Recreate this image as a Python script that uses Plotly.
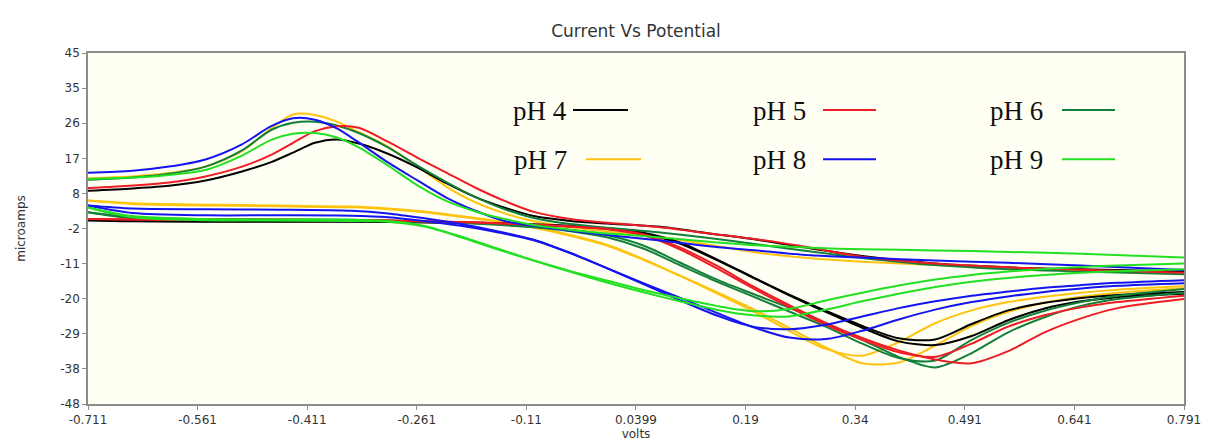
import plotly.graph_objects as go

# ---------------- data ----------------
# potential grid (volts) for the anodic/upper branches
UP_V = [-0.711, -0.65, -0.60, -0.55, -0.50, -0.46, -0.43, -0.40, -0.37, -0.34, -0.30,
        -0.26, -0.22, -0.18, -0.14, -0.10, -0.05, 0.00, 0.07, 0.14, 0.21, 0.28, 0.35,
        0.45, 0.55, 0.65, 0.791]
# potential grid (volts) for the cathodic/lower branches
LOW_V = [-0.711, -0.65, -0.55, -0.45, -0.35, -0.30, -0.25, -0.20, -0.15, -0.10, -0.05,
         0.00, 0.05, 0.10, 0.15, 0.20, 0.25, 0.30, 0.35, 0.40, 0.45, 0.50, 0.55, 0.60,
         0.65, 0.70, 0.791]

# currents (microamps)
ph4_up = [8.5, 9.1, 9.8, 11.2, 13.6, 16.1, 18.6, 21.2, 22.1, 21.0, 18.3, 14.7, 10.5, 6.8,
          4.0, 1.8, 0.5, -0.2, -1.0, -2.8, -4.6, -6.8, -8.8, -10.8, -11.8, -12.3, -12.9]
ph4_low_a = [0.7, 0.4, 0.3, 0.3, 0.3, 0.2, 0.1, 0.0, -0.2, -0.5, -0.9, -1.5, -2.8, -5.5,
             -9.8, -14.5, -19.0, -23.3, -27.3, -30.6, -30.9, -26.8, -23.2, -21.2, -19.9,
             -19.1, -18.3]
ph4_low_b = [0.7, 0.5, 0.4, 0.4, 0.4, 0.3, 0.2, 0.1, -0.1, -0.4, -0.8, -1.4, -2.6, -5.2,
             -9.6, -14.4, -19.2, -23.6, -27.8, -31.4, -32.4, -30.0, -25.8, -22.7, -20.8,
             -19.7, -18.8]

ph5_up = [9.2, 9.9, 10.7, 12.3, 14.9, 18.0, 21.2, 24.3, 25.6, 25.2, 21.5, 17.3, 13.3, 9.3,
          5.8, 2.9, 1.0, 0.0, -1.1, -2.8, -4.5, -6.6, -9.0, -10.8, -11.8, -12.4, -13.2]
ph5_low_a = [1.0, 0.9, 0.8, 0.8, 0.7, 0.6, 0.4, 0.2, -0.1, -0.5, -1.0, -1.6, -3.0, -6.5,
             -11.3, -16.8, -21.8, -26.5, -30.5, -33.8, -36.2, -37.2, -34.0, -29.0, -25.3,
             -22.6, -20.2]
ph5_low_b = [1.0, 0.9, 0.8, 0.8, 0.7, 0.6, 0.4, 0.2, -0.1, -0.5, -1.0, -1.7, -3.3, -7.0,
             -12.0, -17.3, -22.3, -27.0, -31.0, -34.3, -35.5, -32.0, -27.5, -24.5, -22.4,
             -21.0, -19.3]

ph6_up = [11.4, 12.0, 13.0, 14.9, 19.2, 24.6, 26.5, 26.8, 25.8, 23.8, 20.0, 15.2, 10.8, 6.8,
          3.6, 1.3, -0.3, -1.3, -2.5, -4.0, -5.8, -7.6, -9.3, -11.2, -12.3, -12.9, -13.6]
ph6_low_a = [2.8, 1.2, 0.8, 0.7, 0.6, 0.5, 0.3, 0.0, -0.4, -1.0, -1.8, -3.2, -6.0, -10.5,
             -15.0, -18.8, -22.5, -26.5, -31.0, -35.5, -38.3, -34.5, -29.0, -25.0, -22.0,
             -20.2, -18.5]
ph6_low_b = [2.8, 1.5, 1.0, 0.9, 0.8, 0.6, 0.3, 0.0, -0.5, -1.2, -2.2, -3.8, -6.8, -11.2,
             -15.5, -19.5, -23.5, -27.5, -32.0, -35.8, -36.5, -31.0, -26.5, -23.3, -21.0,
             -19.3, -17.5]

ph7_up = [11.8, 12.3, 13.2, 14.9, 19.0, 25.0, 28.7, 28.6, 26.8, 24.0, 20.2, 15.0, 9.6, 5.4,
          2.5, 0.4, -1.2, -2.3, -3.6, -5.8, -8.0, -9.4, -10.3, -11.2, -11.9, -12.5, -13.3]
ph7_low_a = [5.9, 5.0, 4.6, 4.4, 4.1, 3.6, 2.8, 1.6, 0.3, -1.3, -3.4, -6.0, -9.8, -14.0,
             -18.3, -22.8, -27.8, -33.0, -37.2, -37.0, -32.5, -27.3, -23.6, -21.2, -19.6,
             -18.5, -17.3]
ph7_low_b = [5.9, 5.2, 4.8, 4.6, 4.3, 3.8, 3.0, 1.8, 0.5, -1.1, -3.2, -5.8, -9.6, -14.0,
             -18.6, -23.4, -28.6, -33.4, -35.2, -31.6, -26.6, -23.2, -21.0, -19.6, -18.5,
             -17.7, -16.8]

ph8_up = [13.3, 13.8, 14.9, 16.8, 20.8, 25.6, 27.7, 27.3, 25.0, 21.3, 16.0, 11.3, 6.7, 3.2,
          0.5, -0.8, -2.1, -3.2, -4.6, -6.2, -7.4, -8.6, -9.2, -10.0, -10.6, -11.3, -12.5]
ph8_low_a = [4.6, 2.6, 2.0, 2.0, 1.9, 1.5, 0.5, -0.8, -2.5, -4.6, -8.0, -12.0, -16.0, -19.8,
             -23.8, -27.6, -30.4, -30.8, -28.6, -25.6, -23.0, -21.0, -19.5, -18.3, -17.4,
             -16.7, -16.0]
ph8_low_b = [4.6, 3.8, 3.6, 3.5, 3.2, 2.5, 1.2, -0.3, -2.2, -4.5, -8.0, -12.0, -16.2, -20.5,
             -24.5, -27.5, -28.2, -27.0, -24.8, -22.6, -20.8, -19.3, -18.2, -17.2, -16.5,
             -15.9, -15.2]

ph9_up = [11.6, 12.0, 12.7, 14.0, 17.8, 22.0, 23.6, 23.8, 22.6, 20.0, 15.2, 10.0, 5.8, 3.0,
          1.0, -0.6, -1.9, -2.8, -3.8, -5.0, -6.0, -6.6, -7.0, -7.3, -7.7, -8.2, -9.2]
ph9_low_a = [4.1, 1.5, 0.7, 0.6, 0.5, 0.3, -1.0, -3.8, -7.0, -10.0, -12.8, -15.3, -17.8,
             -20.0, -22.0, -23.4, -22.8, -20.6, -18.5, -16.6, -15.0, -13.8, -12.9, -12.2,
             -11.7, -11.3, -10.8]
ph9_low_b = [4.1, 1.8, 1.0, 0.9, 0.8, 0.5, -0.8, -3.6, -6.8, -10.0, -13.0, -15.8, -18.4,
             -20.8, -23.0, -24.5, -24.8, -23.0, -20.8, -18.8, -17.0, -15.6, -14.6, -13.8,
             -13.2, -12.8, -12.3]

SERIES_NAMES = ["pH 4", "pH 5", "pH 6", "pH 7", "pH 8", "pH 9"]
SERIES_UP = [ph4_up, ph5_up, ph6_up, ph7_up, ph8_up, ph9_up]
SERIES_LOW_A = [ph4_low_a, ph5_low_a, ph6_low_a, ph7_low_a, ph8_low_a, ph9_low_a]
SERIES_LOW_B = [ph4_low_b, ph5_low_b, ph6_low_b, ph7_low_b, ph8_low_b, ph9_low_b]

X_TICKS = [-0.711, -0.5608, -0.4106, -0.2604, -0.1102, 0.0399, 0.1901, 0.3404, 0.4906,
           0.6408, 0.791]
X_TICK_TEXT = ["-0.711", "-0.561", "-0.411", "-0.261", "-0.11", "0.0399", "0.19", "0.34",
               "0.491", "0.641", "0.791"]
Y_TICKS = [45, 35.7, 26.4, 17.1, 7.8, -1.5, -10.8, -20.1, -29.4, -38.7, -48]
Y_TICK_TEXT = ["45", "35", "26", "17", "8", "-2", "-11", "-20", "-29", "-38", "-48"]

# ---------------- styling ----------------
COLORS = ["#000000", "#ee1c24", "#12803a", "#ffc20e", "#1414f0", "#22e022"]
DRAW_ORDER = [3, 0, 2, 1, 4, 5]

W, H = 1209, 441
PL, PR, PT, PB = 80, 1176, 45, 402  # plot-area pixel box


def px_x(px):
    return (px - PL) / (PR - PL)


def px_y(py):
    return (PB - py) / (PB - PT)


fig = go.Figure()
for k in DRAW_ORDER:
    xs = UP_V + [None] + LOW_V + [None] + LOW_V
    ys = SERIES_UP[k] + [None] + SERIES_LOW_A[k] + [None] + SERIES_LOW_B[k]
    fig.add_trace(go.Scatter(
        x=xs, y=ys, mode="lines", name=SERIES_NAMES[k], connectgaps=False,
        line=dict(color=COLORS[k], width=2, shape="spline", smoothing=0.8),
        showlegend=False, hoverinfo="skip"))

# hand-made legend: label text followed by a short colour line
# (text right edge px, line start px, line end px, row centre px)
LEG_POS = [(561, 565, 620, 103), (800, 815, 868, 103), (1037, 1054, 1107, 103),
           (561, 578, 633, 153), (800, 815, 868, 153), (1037, 1054, 1107, 153)]
shapes = []
annotations = []
for k, (tr, lx0, lx1, ry) in enumerate(LEG_POS):
    annotations.append(dict(
        text=SERIES_NAMES[k], xref="paper", yref="paper", x=px_x(tr), y=px_y(ry + 1),
        xanchor="right", yanchor="middle", showarrow=False,
        font=dict(family="Liberation Serif, Times New Roman, serif", size=27,
                  color="#111111")))
    shapes.append(dict(type="line", xref="paper", yref="paper",
                       x0=px_x(lx0), x1=px_x(lx1), y0=px_y(ry), y1=px_y(ry),
                       line=dict(color=COLORS[k], width=2)))

axis_common = dict(showline=True, mirror=True, linecolor="#8c8c8c", linewidth=1.5,
                   ticks="outside", ticklen=4, tickcolor="#8c8c8c", showgrid=False,
                   zeroline=False,
                   tickfont=dict(family="DejaVu Sans, Arial, sans-serif", size=12,
                                 color="#333333"))

fig.update_layout(
    width=W, height=H,
    margin=dict(l=PL, r=W - PR, t=PT, b=H - PB),
    paper_bgcolor="#ffffff", plot_bgcolor="#fffff3",
    title=dict(text="Current Vs Potential", x=0.5, xref="paper", xanchor="center",
               y=1 - 23 / H, yref="container", yanchor="middle",
               font=dict(family="DejaVu Sans, Arial, sans-serif", size=17,
                         color="#333333")),
    xaxis=dict(range=[-0.711, 0.791], tickvals=X_TICKS, ticktext=X_TICK_TEXT,
               title=dict(text="volts", standoff=1,
                          font=dict(family="DejaVu Sans, Arial, sans-serif", size=12,
                                    color="#333333")),
               **axis_common),
    yaxis=dict(range=[-48, 45], tickvals=Y_TICKS, ticktext=Y_TICK_TEXT,
               title=dict(text="microamps", standoff=32,
                          font=dict(family="DejaVu Sans, Arial, sans-serif", size=12,
                                    color="#333333")),
               **axis_common),
    shapes=shapes, annotations=annotations,
)

fig.write_html("out.html")
